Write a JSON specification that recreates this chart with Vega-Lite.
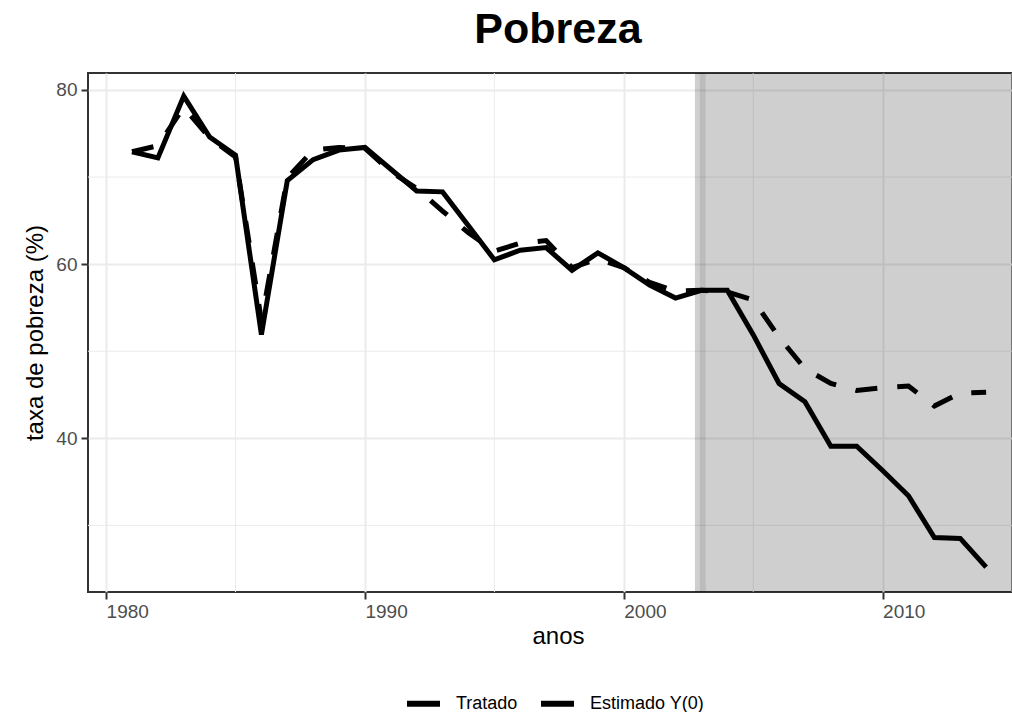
{
  "$schema": "https://vega.github.io/schema/vega-lite/v6.json",
  "autosize": "none",
  "width": 924,
  "height": 519,
  "padding": {"left": 88, "top": 73, "right": 0, "bottom": 120},
  "background": "white",
  "config": {
    "font": "Liberation Sans",
    "view": {"stroke": "#333333", "strokeWidth": 2},
    "axis": {
      "gridColor": "#EBEBEB", "gridWidth": 2,
      "domain": false,
      "tickColor": "#333333", "tickWidth": 2, "tickSize": 7,
      "labelColor": "#4D4D4D", "labelFontSize": 19, "labelFont": "Liberation Sans",
      "titleColor": "#000000", "titleFontSize": 24, "titleFontWeight": "normal", "titleFont": "Liberation Sans"
    }
  },
  "title": {"text": "Pobreza", "fontSize": 43, "fontWeight": "bold", "font": "Liberation Sans", "color": "#000000", "anchor": "middle", "dx": 8, "offset": 18},
  "datasets": {
    "series": [
      {"ano": 1981, "serie": "Tratado", "taxa": 72.9},
      {"ano": 1982, "serie": "Tratado", "taxa": 72.2},
      {"ano": 1983, "serie": "Tratado", "taxa": 79.3},
      {"ano": 1984, "serie": "Tratado", "taxa": 74.6},
      {"ano": 1985, "serie": "Tratado", "taxa": 72.5},
      {"ano": 1986, "serie": "Tratado", "taxa": 51.9},
      {"ano": 1987, "serie": "Tratado", "taxa": 69.6},
      {"ano": 1988, "serie": "Tratado", "taxa": 72.0},
      {"ano": 1989, "serie": "Tratado", "taxa": 73.1},
      {"ano": 1990, "serie": "Tratado", "taxa": 73.4},
      {"ano": 1991, "serie": "Tratado", "taxa": 70.9},
      {"ano": 1992, "serie": "Tratado", "taxa": 68.4},
      {"ano": 1993, "serie": "Tratado", "taxa": 68.3},
      {"ano": 1994, "serie": "Tratado", "taxa": 64.4},
      {"ano": 1995, "serie": "Tratado", "taxa": 60.5},
      {"ano": 1996, "serie": "Tratado", "taxa": 61.6},
      {"ano": 1997, "serie": "Tratado", "taxa": 61.9},
      {"ano": 1998, "serie": "Tratado", "taxa": 59.3},
      {"ano": 1999, "serie": "Tratado", "taxa": 61.3},
      {"ano": 2000, "serie": "Tratado", "taxa": 59.6},
      {"ano": 2001, "serie": "Tratado", "taxa": 57.6},
      {"ano": 2002, "serie": "Tratado", "taxa": 56.1},
      {"ano": 2003, "serie": "Tratado", "taxa": 57.0},
      {"ano": 2004, "serie": "Tratado", "taxa": 57.0},
      {"ano": 2005, "serie": "Tratado", "taxa": 51.9},
      {"ano": 2006, "serie": "Tratado", "taxa": 46.3},
      {"ano": 2007, "serie": "Tratado", "taxa": 44.2},
      {"ano": 2008, "serie": "Tratado", "taxa": 39.1},
      {"ano": 2009, "serie": "Tratado", "taxa": 39.1},
      {"ano": 2010, "serie": "Tratado", "taxa": 36.3},
      {"ano": 2011, "serie": "Tratado", "taxa": 33.4},
      {"ano": 2012, "serie": "Tratado", "taxa": 28.6},
      {"ano": 2013, "serie": "Tratado", "taxa": 28.5},
      {"ano": 2014, "serie": "Tratado", "taxa": 25.2},
      {"ano": 1981, "serie": "Estimado Y(0)", "taxa": 72.9},
      {"ano": 1982, "serie": "Estimado Y(0)", "taxa": 73.6},
      {"ano": 1983, "serie": "Estimado Y(0)", "taxa": 78.0},
      {"ano": 1984, "serie": "Estimado Y(0)", "taxa": 74.5},
      {"ano": 1985, "serie": "Estimado Y(0)", "taxa": 72.3},
      {"ano": 1986, "serie": "Estimado Y(0)", "taxa": 53.5},
      {"ano": 1987, "serie": "Estimado Y(0)", "taxa": 69.9},
      {"ano": 1988, "serie": "Estimado Y(0)", "taxa": 73.1},
      {"ano": 1989, "serie": "Estimado Y(0)", "taxa": 73.4},
      {"ano": 1990, "serie": "Estimado Y(0)", "taxa": 73.3},
      {"ano": 1991, "serie": "Estimado Y(0)", "taxa": 70.6},
      {"ano": 1992, "serie": "Estimado Y(0)", "taxa": 68.7},
      {"ano": 1993, "serie": "Estimado Y(0)", "taxa": 66.1},
      {"ano": 1994, "serie": "Estimado Y(0)", "taxa": 63.6},
      {"ano": 1995, "serie": "Estimado Y(0)", "taxa": 61.5},
      {"ano": 1996, "serie": "Estimado Y(0)", "taxa": 62.4},
      {"ano": 1997, "serie": "Estimado Y(0)", "taxa": 62.7},
      {"ano": 1998, "serie": "Estimado Y(0)", "taxa": 59.6},
      {"ano": 1999, "serie": "Estimado Y(0)", "taxa": 60.6},
      {"ano": 2000, "serie": "Estimado Y(0)", "taxa": 59.6},
      {"ano": 2001, "serie": "Estimado Y(0)", "taxa": 57.9},
      {"ano": 2002, "serie": "Estimado Y(0)", "taxa": 56.9},
      {"ano": 2003, "serie": "Estimado Y(0)", "taxa": 57.0},
      {"ano": 2004, "serie": "Estimado Y(0)", "taxa": 56.8},
      {"ano": 2005, "serie": "Estimado Y(0)", "taxa": 55.9},
      {"ano": 2006, "serie": "Estimado Y(0)", "taxa": 51.6},
      {"ano": 2007, "serie": "Estimado Y(0)", "taxa": 48.0},
      {"ano": 2008, "serie": "Estimado Y(0)", "taxa": 46.3},
      {"ano": 2009, "serie": "Estimado Y(0)", "taxa": 45.5},
      {"ano": 2010, "serie": "Estimado Y(0)", "taxa": 45.8},
      {"ano": 2011, "serie": "Estimado Y(0)", "taxa": 46.0},
      {"ano": 2012, "serie": "Estimado Y(0)", "taxa": 43.7},
      {"ano": 2013, "serie": "Estimado Y(0)", "taxa": 45.2},
      {"ano": 2014, "serie": "Estimado Y(0)", "taxa": 45.3}
    ],
    "minorX": [{"ano": 1985}, {"ano": 1995}, {"ano": 2005}, {"ano": 2015}],
    "minorY": [{"taxa": 30}, {"taxa": 50}, {"taxa": 70}],
    "periodo": [{"inicio": 2002.75, "fim": 2015.65, "tratamento": 2003.05}]
  },
  "encoding": {
    "x": {
      "field": "ano", "type": "quantitative",
      "scale": {"domain": [1979.3, 2015.0], "nice": false, "zero": false},
      "axis": {"title": "anos", "values": [1980, 1990, 2000, 2010], "format": "d", "labelAlign": "left", "labelPadding": 3, "titlePadding": 3, "titleX": 470}
    },
    "y": {
      "field": "taxa", "type": "quantitative",
      "scale": {"domain": [22.35, 81.95], "nice": false, "zero": false},
      "axis": {"title": "taxa de pobreza (%)", "values": [40, 60, 80], "labelPadding": 4, "titlePadding": 8}
    }
  },
  "layer": [
    {
      "data": {"name": "minorX"},
      "mark": {"type": "rule", "color": "#EBEBEB", "strokeWidth": 1},
      "encoding": {"x": {"field": "ano", "type": "quantitative"}, "y": null}
    },
    {
      "data": {"name": "minorY"},
      "mark": {"type": "rule", "color": "#EBEBEB", "strokeWidth": 1},
      "encoding": {"y": {"field": "taxa", "type": "quantitative"}, "x": null}
    },
    {
      "data": {"name": "periodo"},
      "mark": {"type": "rect", "color": "#000000", "opacity": 0.19, "clip": true},
      "encoding": {
        "x": {"field": "inicio", "type": "quantitative"},
        "x2": {"field": "fim"},
        "y": null
      }
    },
    {
      "data": {"name": "periodo"},
      "mark": {"type": "rule", "color": "#000000", "opacity": 0.09, "strokeWidth": 6},
      "encoding": {"x": {"field": "tratamento", "type": "quantitative"}, "y": null}
    },
    {
      "data": {"name": "series"},
      "transform": [{"filter": {"field": "serie", "equal": "Estimado Y(0)"}}],
      "mark": {"type": "line", "color": "#000000", "strokeWidth": 5, "strokeDash": [22, 20], "clip": true},
      "encoding": {"detail": {"field": "serie", "type": "nominal"}}
    },
    {
      "data": {"name": "series"},
      "transform": [{"filter": {"field": "serie", "equal": "Tratado"}}],
      "mark": {"type": "line", "strokeWidth": 5, "clip": true},
      "encoding": {
        "color": {
          "field": "serie", "type": "nominal",
          "scale": {"domain": ["Tratado", "Estimado Y(0)"], "range": ["#000000", "#000000"]},
          "legend": {
            "title": null, "orient": "none", "direction": "horizontal",
            "legendX": 316, "legendY": 611, "padding": 0,
            "symbolType": "stroke", "symbolSize": 1089, "symbolStrokeWidth": 6, "symbolStrokeColor": "#000000",
            "labelFontSize": 18, "labelColor": "#000000", "labelOffset": 13, "columnPadding": 11
          }
        }
      }
    }
  ]
}
